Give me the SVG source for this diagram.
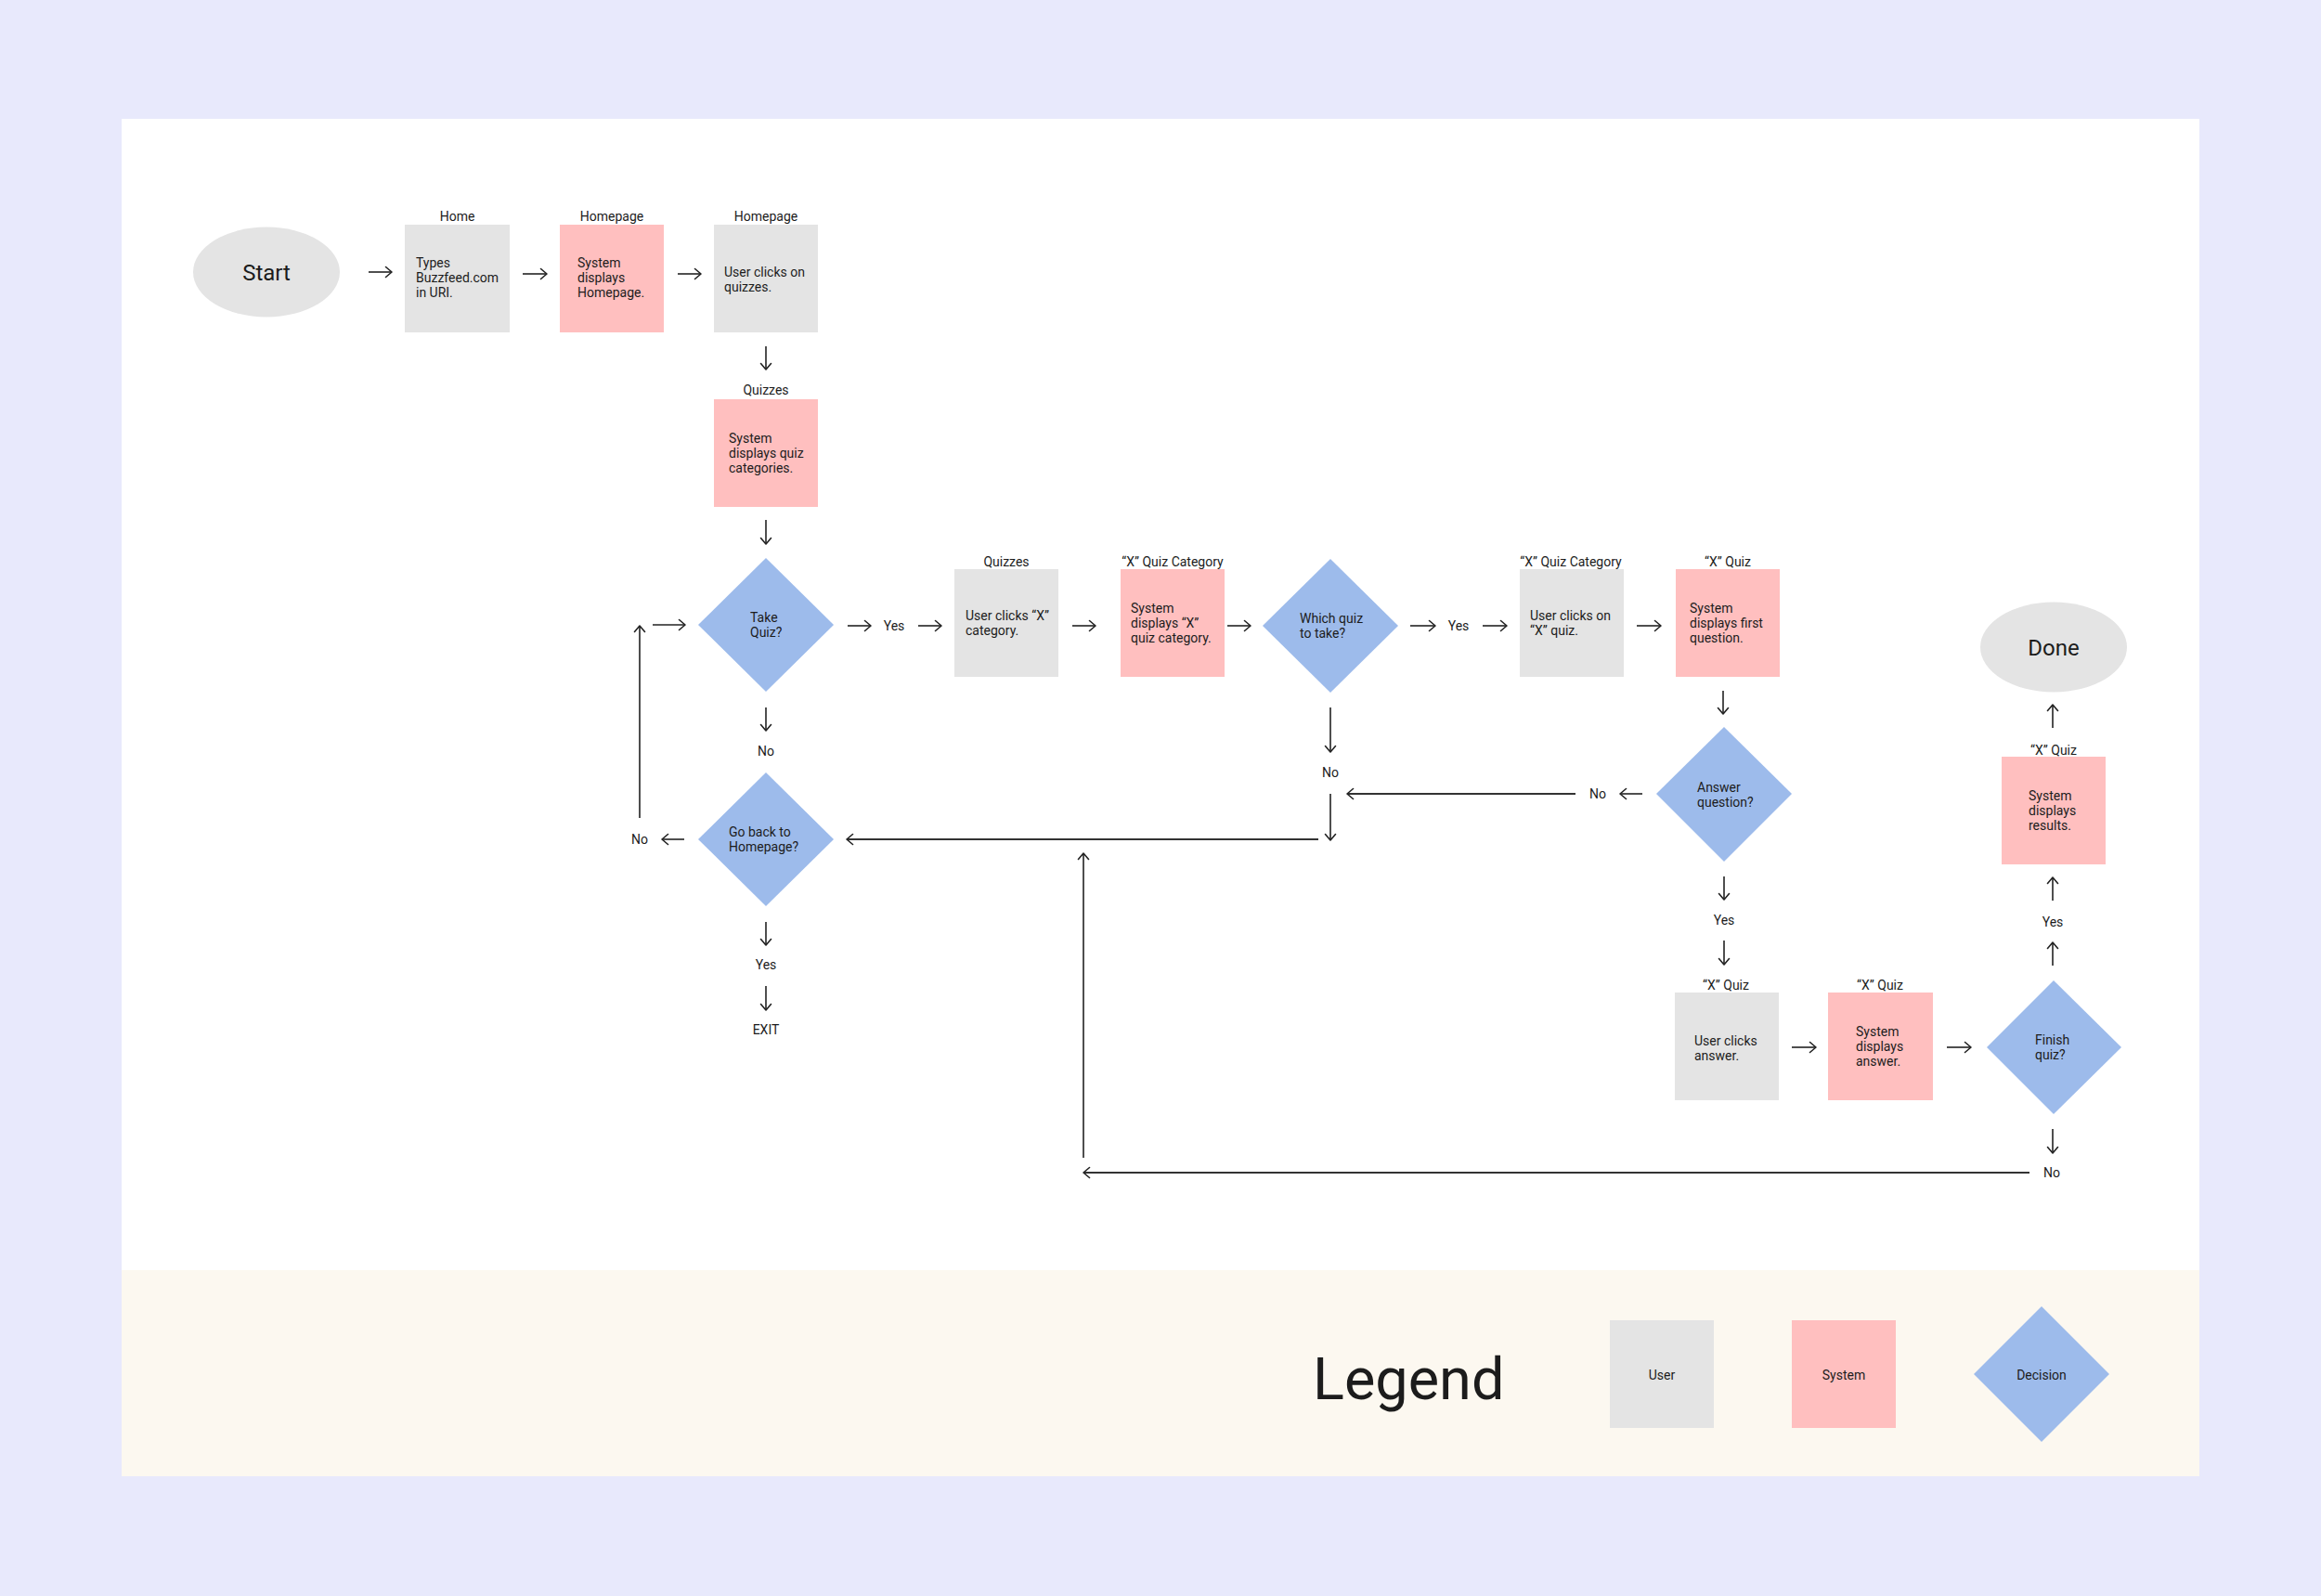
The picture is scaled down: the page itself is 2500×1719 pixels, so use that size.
<svg xmlns="http://www.w3.org/2000/svg" width="2500" height="1719" viewBox="0 0 2500 1719">
<defs>
<marker id="ah" markerUnits="userSpaceOnUse" markerWidth="10" markerHeight="14" viewBox="0 0 10 14" refX="8.5" refY="7" orient="auto">
<path d="M2,1.5 L8.5,7 L2,12.5" fill="none" stroke="#222" stroke-width="1.6" stroke-linecap="round" stroke-linejoin="round"/>
</marker>
<style>
.user{fill:#e4e4e4}
.sys{fill:#ffbfbf}
.dec{fill:#9dbbeb}
.term{fill:#e4e4e4}
text{font-family:Roboto,"Liberation Sans",Arial,sans-serif;fill:#1c1c1c}
.t{font-size:14px}
.lbl{font-size:14px;text-anchor:middle}
.big{font-size:24px;text-anchor:middle}
.c{stroke:#222;stroke-width:1.6;fill:none;marker-end:url(#ah)}
.l{stroke:#333;stroke-width:2;fill:none}
.la{stroke:#333;stroke-width:2;fill:none;marker-end:url(#ah)}
</style>
</defs>
<rect x="0" y="0" width="2500" height="1719" fill="#e8e9fc"/>
<rect x="131" y="128" width="2238" height="1240" fill="#ffffff"/>
<rect x="131" y="1368" width="2238" height="222" fill="#fcf8f0"/>

<g id="connectors">
<line class="c" x1="397" y1="293" x2="422" y2="293"/>
<line class="c" x1="563" y1="295" x2="589" y2="295"/>
<line class="c" x1="730" y1="295" x2="755" y2="295"/>
<line class="c" x1="825" y1="373" x2="825" y2="398"/>
<line class="c" x1="825" y1="560" x2="825" y2="586"/>
<line class="c" x1="703" y1="673" x2="738" y2="673"/>
<line class="c" x1="913" y1="674" x2="938" y2="674"/>
<line class="c" x1="989" y1="674" x2="1014" y2="674"/>
<line class="c" x1="1155" y1="674" x2="1180" y2="674"/>
<line class="c" x1="1322" y1="674" x2="1347" y2="674"/>
<line class="c" x1="1519" y1="674" x2="1546" y2="674"/>
<line class="c" x1="1597" y1="674" x2="1623" y2="674"/>
<line class="c" x1="1763" y1="674" x2="1789" y2="674"/>
<line class="c" x1="1856" y1="744" x2="1856" y2="769"/>
<line class="c" x1="1769" y1="855" x2="1745" y2="855"/>
<line class="la" x1="1697" y1="855" x2="1451" y2="855"/>
<line class="c" x1="1433" y1="762" x2="1433" y2="810"/>
<line class="c" x1="1433" y1="855" x2="1433" y2="905"/>
<line class="la" x1="1420" y1="904" x2="912" y2="904"/>
<line class="c" x1="825" y1="762" x2="825" y2="787"/>
<line class="c" x1="737" y1="904" x2="713" y2="904"/>
<line class="c" x1="689" y1="881" x2="689" y2="674"/>
<line class="c" x1="825" y1="993" x2="825" y2="1018"/>
<line class="c" x1="825" y1="1062" x2="825" y2="1088"/>
<line class="c" x1="1857" y1="944" x2="1857" y2="969"/>
<line class="c" x1="1857" y1="1013" x2="1857" y2="1039"/>
<line class="c" x1="1930" y1="1128" x2="1956" y2="1128"/>
<line class="c" x1="2097" y1="1128" x2="2123" y2="1128"/>
<line class="c" x1="2211" y1="1040" x2="2211" y2="1015"/>
<line class="c" x1="2211" y1="970" x2="2211" y2="945"/>
<line class="c" x1="2211" y1="784" x2="2211" y2="759"/>
<line class="c" x1="2211" y1="1216" x2="2211" y2="1242"/>
<line class="la" x1="2186" y1="1263" x2="1167" y2="1263"/>
<line class="c" x1="1167" y1="1247" x2="1167" y2="919"/>
</g>

<g id="start">
<ellipse class="term" cx="287" cy="293" rx="79" ry="48.5"/>
<text class="big" x="287" y="301.5">Start</text>
</g>

<g id="n-types">
<text class="lbl" x="492.5" y="238">Home</text>
<rect class="user" x="436" y="242" width="113" height="116"/>
<text class="t" x="448" y="288">Types</text>
<text class="t" x="448" y="304">Buzzfeed.com</text>
<text class="t" x="448" y="320">in URI.</text>
</g>

<g id="n-sys-home">
<text class="lbl" x="659" y="238">Homepage</text>
<rect class="sys" x="603" y="242" width="112" height="116"/>
<text class="t" x="622" y="288">System</text>
<text class="t" x="622" y="304">displays</text>
<text class="t" x="622" y="320">Homepage.</text>
</g>

<g id="n-click-quizzes">
<text class="lbl" x="825" y="238">Homepage</text>
<rect class="user" x="769" y="242" width="112" height="116"/>
<text class="t" x="780" y="298">User clicks on</text>
<text class="t" x="780" y="314">quizzes.</text>
</g>

<g id="n-sys-categories">
<text class="lbl" x="825" y="425">Quizzes</text>
<rect class="sys" x="769" y="430" width="112" height="116"/>
<text class="t" x="785" y="477">System</text>
<text class="t" x="785" y="493">displays quiz</text>
<text class="t" x="785" y="509">categories.</text>
</g>

<g id="d-take-quiz">
<polygon class="dec" points="825,601 898,673 825,745 752,673"/>
<text class="t" x="808" y="670">Take</text>
<text class="t" x="808" y="686">Quiz?</text>
</g>

<g id="n-click-category">
<text class="lbl" x="1084" y="610">Quizzes</text>
<rect class="user" x="1028" y="613" width="112" height="116"/>
<text class="t" x="1040" y="668">User clicks “X”</text>
<text class="t" x="1040" y="684">category.</text>
</g>

<g id="n-sys-category">
<text class="lbl" x="1263" y="610">“X” Quiz Category</text>
<rect class="sys" x="1207" y="613" width="112" height="116"/>
<text class="t" x="1218" y="660">System</text>
<text class="t" x="1218" y="676">displays “X”</text>
<text class="t" x="1218" y="692">quiz category.</text>
</g>

<g id="d-which-quiz">
<polygon class="dec" points="1433,602 1506,674 1433,746 1360,674"/>
<text class="t" x="1400" y="671">Which quiz</text>
<text class="t" x="1400" y="687">to take?</text>
</g>

<g id="n-click-quiz">
<text class="lbl" x="1692" y="610">“X” Quiz Category</text>
<rect class="user" x="1637" y="613" width="112" height="116"/>
<text class="t" x="1648" y="668">User clicks on</text>
<text class="t" x="1648" y="684">“X” quiz.</text>
</g>

<g id="n-sys-question">
<text class="lbl" x="1861" y="610">“X” Quiz</text>
<rect class="sys" x="1805" y="613" width="112" height="116"/>
<text class="t" x="1820" y="660">System</text>
<text class="t" x="1820" y="676">displays first</text>
<text class="t" x="1820" y="692">question.</text>
</g>

<g id="d-answer">
<polygon class="dec" points="1857,783 1930,855 1857,928 1784,855"/>
<text class="t" x="1828" y="853">Answer</text>
<text class="t" x="1828" y="869">question?</text>
</g>

<g id="d-go-back">
<polygon class="dec" points="825,832 898,904 825,976 752,904"/>
<text class="t" x="785" y="901">Go back to</text>
<text class="t" x="785" y="917">Homepage?</text>
</g>

<g id="n-click-answer">
<text class="lbl" x="1859" y="1066">“X” Quiz</text>
<rect class="user" x="1804" y="1069" width="112" height="116"/>
<text class="t" x="1825" y="1126">User clicks</text>
<text class="t" x="1825" y="1142">answer.</text>
</g>

<g id="n-sys-answer">
<text class="lbl" x="2025" y="1066">“X” Quiz</text>
<rect class="sys" x="1969" y="1069" width="113" height="116"/>
<text class="t" x="1999" y="1116">System</text>
<text class="t" x="1999" y="1132">displays</text>
<text class="t" x="1999" y="1148">answer.</text>
</g>

<g id="d-finish">
<polygon class="dec" points="2212,1056 2285,1128 2212,1200 2140,1128"/>
<text class="t" x="2192" y="1125">Finish</text>
<text class="t" x="2192" y="1141">quiz?</text>
</g>

<g id="n-sys-results">
<text class="lbl" x="2212" y="813">“X” Quiz</text>
<rect class="sys" x="2156" y="815" width="112" height="116"/>
<text class="t" x="2185" y="862">System</text>
<text class="t" x="2185" y="878">displays</text>
<text class="t" x="2185" y="894">results.</text>
</g>

<g id="done">
<ellipse class="term" cx="2212" cy="697" rx="79" ry="48.5"/>
<text class="big" x="2212" y="705.5">Done</text>
</g>

<g id="edge-labels">
<text class="lbl" x="963" y="679">Yes</text>
<text class="lbl" x="1571" y="679">Yes</text>
<text class="lbl" x="825" y="814">No</text>
<text class="lbl" x="1433" y="837">No</text>
<text class="lbl" x="1721" y="860">No</text>
<text class="lbl" x="689" y="909">No</text>
<text class="lbl" x="825" y="1044">Yes</text>
<text class="lbl" x="825" y="1114">EXIT</text>
<text class="lbl" x="1857" y="996">Yes</text>
<text class="lbl" x="2211" y="998">Yes</text>
<text class="lbl" x="2210" y="1268">No</text>
</g>

<g id="legend">
<text x="1414" y="1507" style="font-size:63px">Legend</text>
<rect class="user" x="1734" y="1422" width="112" height="116"/>
<text class="lbl" x="1790" y="1486">User</text>
<rect class="sys" x="1930" y="1422" width="112" height="116"/>
<text class="lbl" x="1986" y="1486">System</text>
<polygon class="dec" points="2199,1407 2272,1480 2199,1553 2126,1480"/>
<text class="lbl" x="2199" y="1486">Decision</text>
</g>
</svg>
